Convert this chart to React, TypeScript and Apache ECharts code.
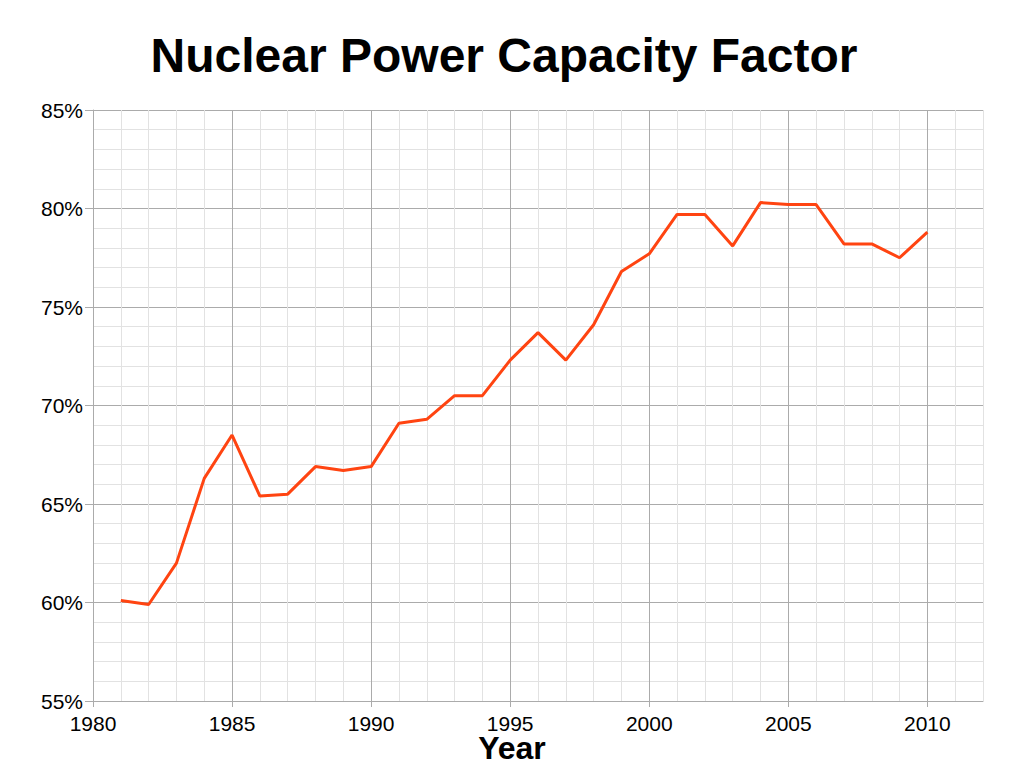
import React, { useEffect, useRef } from "react";
import * as echarts from "echarts";

const years = [1981, 1982, 1983, 1984, 1985, 1986, 1987, 1988, 1989, 1990, 1991, 1992, 1993, 1994, 1995, 1996, 1997, 1998, 1999, 2000, 2001, 2002, 2003, 2004, 2005, 2006, 2007, 2008, 2009, 2010];
const capacityFactor = [60.1, 59.9, 62.0, 66.3, 68.5, 65.4, 65.5, 66.9, 66.7, 66.9, 69.1, 69.3, 70.5, 70.5, 72.3, 73.7, 72.3, 74.1, 76.8, 77.7, 79.7, 79.7, 78.1, 80.3, 80.2, 80.2, 78.2, 78.2, 77.5, 78.8];
const xTickLabels = [1980, 1985, 1990, 1995, 2000, 2005, 2010];
const yTickLabels = [55, 60, 65, 70, 75, 80, 85];

const MAJOR = "#ababab";
const MINOR = "#e2e2e2";
const FONT = "'Liberation Sans', Arial, sans-serif";

export default function App() {
  const ref = useRef<HTMLDivElement>(null);
  useEffect(() => {
    document.body.style.margin = "0";
    const chart = echarts.init(ref.current!, undefined, { renderer: "svg" });
    const gridAxisCommon = {
      type: "value" as const,
      interval: 1,
      axisLine: { show: false },
      axisTick: { show: false },
      axisLabel: { show: false },
      splitLine: {
        show: true,
        lineStyle: { color: [MAJOR, MINOR, MINOR, MINOR, MINOR], width: 1 },
      },
    };
    chart.setOption({
      animation: false,
      backgroundColor: "#ffffff",
      grid: { left: 93, right: 41, top: 110, bottom: 67, containLabel: false },
      graphic: [
        {
          type: "text",
          x: 504,
          y: 31,
          style: {
            text: "Nuclear Power Capacity Factor",
            font: `bold 48px ${FONT}`,
            fill: "#000",
            textAlign: "center",
            textVerticalAlign: "top",
          },
        },
        {
          type: "text",
          x: 512,
          y: 734,
          style: {
            text: "Year",
            font: `bold 32px ${FONT}`,
            lineHeight: 28,
            fill: "#000",
            textAlign: "center",
            textVerticalAlign: "top",
          },
        },
      ],
      xAxis: [
        {
          type: "value",
          min: 1980,
          max: 2012,
          interval: 1,
          position: "bottom",
          axisLine: { show: true, lineStyle: { color: MAJOR, width: 1 } },
          axisTick: { show: true, length: 6, customValues: xTickLabels, lineStyle: { color: MAJOR } },
          axisLabel: {
            customValues: xTickLabels,
            margin: 12,
            fontSize: 21,
            lineHeight: 20,
            fontFamily: FONT,
            color: "#000",
            formatter: (v: number) => String(v),
          },
          splitLine: { show: false },
          z: 3,
        },
        { ...gridAxisCommon, min: 1980, max: 2012, position: "top", z: 1 },
      ],
      yAxis: [
        {
          type: "value",
          min: 55,
          max: 85,
          interval: 1,
          position: "left",
          axisLine: { show: true, lineStyle: { color: MAJOR, width: 1 } },
          axisTick: { show: true, length: 8, customValues: yTickLabels, lineStyle: { color: MAJOR } },
          axisLabel: {
            customValues: yTickLabels,
            margin: 10,
            fontSize: 21,
            fontFamily: FONT,
            color: "#000",
            formatter: (v: number) => `${v}%`,
          },
          splitLine: { show: false },
          z: 3,
        },
        { ...gridAxisCommon, min: 55, max: 85, position: "right", z: 1 },
      ],
      series: [
        {
          type: "line",
          xAxisIndex: 0,
          yAxisIndex: 0,
          data: years.map((y, i) => [y, capacityFactor[i]]),
          showSymbol: false,
          symbol: "none",
          lineStyle: { color: "#ff4411", width: 3 },
          itemStyle: { color: "#ff4411" },
          z: 10,
        },
      ],
    });
    return () => chart.dispose();
  }, []);
  return <div ref={ref} style={{ width: 1024, height: 768 }} />;
}
